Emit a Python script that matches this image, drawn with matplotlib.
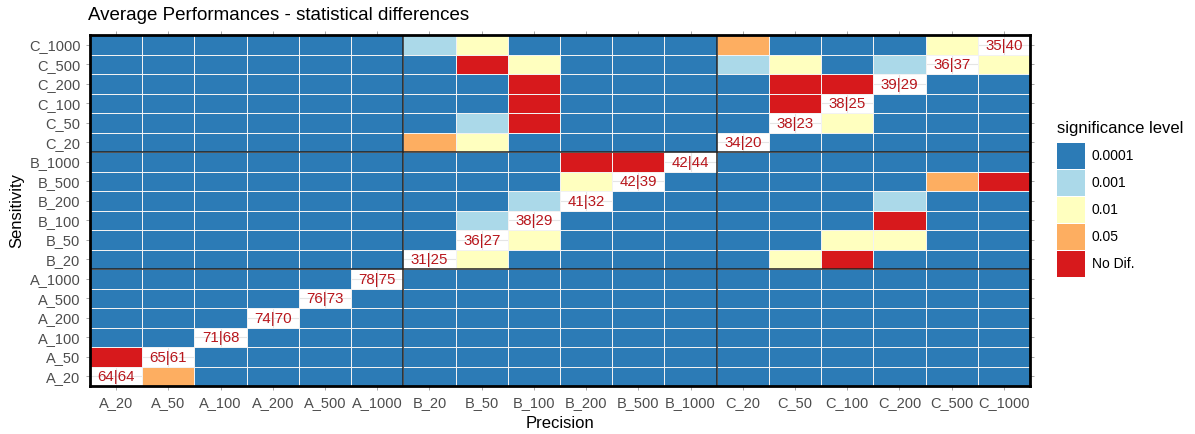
import numpy as np
import matplotlib
matplotlib.use("Agg")
import matplotlib.pyplot as plt
from matplotlib.colors import ListedColormap, BoundaryNorm
from matplotlib.patches import Rectangle

plt.rcParams['font.family'] = ['Liberation Sans', 'DejaVu Sans']

categories = ["A_20", "A_50", "A_100", "A_200", "A_500", "A_1000",
              "B_20", "B_50", "B_100", "B_200", "B_500", "B_1000",
              "C_20", "C_50", "C_100", "C_200", "C_500", "C_1000"]
levels = ["0.0001", "0.001", "0.01", "0.05", "No Dif."]
level_colors = ["#2C7BB6", "#ABD9E9", "#FFFFBF", "#FDAE61", "#D7191C"]

# significance level index per (sensitivity row, precision column); -1 = diagonal
# rows ordered A_20 ... C_1000 (bottom to top)
sig_A_20   = [-1, 3, 0, 0, 0, 0,  0, 0, 0, 0, 0, 0,  0, 0, 0, 0, 0, 0]
sig_A_50   = [4, -1, 0, 0, 0, 0,  0, 0, 0, 0, 0, 0,  0, 0, 0, 0, 0, 0]
sig_A_100  = [0, 0, -1, 0, 0, 0,  0, 0, 0, 0, 0, 0,  0, 0, 0, 0, 0, 0]
sig_A_200  = [0, 0, 0, -1, 0, 0,  0, 0, 0, 0, 0, 0,  0, 0, 0, 0, 0, 0]
sig_A_500  = [0, 0, 0, 0, -1, 0,  0, 0, 0, 0, 0, 0,  0, 0, 0, 0, 0, 0]
sig_A_1000 = [0, 0, 0, 0, 0, -1,  0, 0, 0, 0, 0, 0,  0, 0, 0, 0, 0, 0]
sig_B_20   = [0, 0, 0, 0, 0, 0,  -1, 2, 0, 0, 0, 0,  0, 2, 4, 0, 0, 0]
sig_B_50   = [0, 0, 0, 0, 0, 0,  0, -1, 2, 0, 0, 0,  0, 0, 2, 2, 0, 0]
sig_B_100  = [0, 0, 0, 0, 0, 0,  0, 1, -1, 0, 0, 0,  0, 0, 0, 4, 0, 0]
sig_B_200  = [0, 0, 0, 0, 0, 0,  0, 0, 1, -1, 0, 0,  0, 0, 0, 1, 0, 0]
sig_B_500  = [0, 0, 0, 0, 0, 0,  0, 0, 0, 2, -1, 0,  0, 0, 0, 0, 3, 4]
sig_B_1000 = [0, 0, 0, 0, 0, 0,  0, 0, 0, 4, 4, -1,  0, 0, 0, 0, 0, 0]
sig_C_20   = [0, 0, 0, 0, 0, 0,  3, 2, 0, 0, 0, 0,  -1, 0, 0, 0, 0, 0]
sig_C_50   = [0, 0, 0, 0, 0, 0,  0, 1, 4, 0, 0, 0,  0, -1, 2, 0, 0, 0]
sig_C_100  = [0, 0, 0, 0, 0, 0,  0, 0, 4, 0, 0, 0,  0, 4, -1, 0, 0, 0]
sig_C_200  = [0, 0, 0, 0, 0, 0,  0, 0, 4, 0, 0, 0,  0, 4, 4, -1, 0, 0]
sig_C_500  = [0, 0, 0, 0, 0, 0,  0, 4, 2, 0, 0, 0,  1, 2, 0, 1, -1, 2]
sig_C_1000 = [0, 0, 0, 0, 0, 0,  1, 2, 0, 0, 0, 0,  3, 0, 0, 0, 2, -1]

diag_labels = ["64|64", "65|61", "71|68", "74|70", "76|73", "78|75",
               "31|25", "36|27", "38|29", "41|32", "42|39", "42|44",
               "34|20", "38|23", "38|25", "39|29", "36|37", "35|40"]

rows = [sig_A_20, sig_A_50, sig_A_100, sig_A_200, sig_A_500, sig_A_1000,
        sig_B_20, sig_B_50, sig_B_100, sig_B_200, sig_B_500, sig_B_1000,
        sig_C_20, sig_C_50, sig_C_100, sig_C_200, sig_C_500, sig_C_1000]
Z = np.ma.masked_less(np.array(rows, dtype=float), 0)

W, H = 1195, 434
fig = plt.figure(figsize=(W / 100, H / 100), dpi=100)
ax = fig.add_axes([90 / W, 1 - 386 / H, (1030 - 90) / W, (386 - 35) / H])

n = len(categories)
# panel grid (visible through the diagonal cells)
for i in range(n):
    ax.axvline(i, color="#E5E5E5", lw=0.8, zorder=0)
    ax.axhline(i, color="#E5E5E5", lw=0.8, zorder=0)

cmap = ListedColormap(level_colors)
norm = BoundaryNorm(np.arange(-0.5, len(levels) + 0.5), cmap.N)
edges = np.arange(n + 1) - 0.5
ax.pcolormesh(edges, edges, Z, cmap=cmap, norm=norm, edgecolors="#F2F2F2",
              linewidth=0.7, zorder=1)

for i, lab in enumerate(diag_labels):
    ax.text(i, i - 0.05, lab, ha="center", va="center", color="#B8161C",
            fontsize=10.8, zorder=3)

for b in (5.5, 11.5):
    ax.axvline(b, color="#222222", lw=1.1, zorder=4)
    ax.axhline(b, color="#222222", lw=1.1, zorder=4)

ax.set_xlim(-0.5, n - 0.5)
ax.set_ylim(-0.5, n - 0.5)
ax.set_xticks(range(n))
ax.set_yticks(range(n))
ax.set_xticklabels(categories)
ax.set_yticklabels(categories)
ax.tick_params(axis="both", colors="#9A9A9A", labelsize=10.5, length=3,
               width=0.6, top=True, right=True)
ax.tick_params(axis="x", pad=4)
ax.tick_params(axis="y", pad=4)
for lab in ax.get_xticklabels() + ax.get_yticklabels():
    lab.set_color("#4D4D4D")
for s in ax.spines.values():
    s.set_linewidth(2)
    s.set_color("black")
    s.set_zorder(5)

fig.text(560 / W, 1 - 424 / H, "Precision", fontsize=12, ha="center", va="center")
fig.text(17 / W, 1 - 210 / H, "Sensitivity", fontsize=12, ha="center",
         va="center", rotation=90)
fig.text(88 / W, 1 - 15 / H, "Average Performances - statistical differences",
         fontsize=13.5, ha="left", va="center")

# legend
fig.text(1057 / W, 1 - 128 / H, "significance level", fontsize=12,
         ha="left", va="center")
key_top = 142
key_h = 27
for k, (lab, col) in enumerate(zip(levels, level_colors)):
    y0 = key_top + k * key_h
    fig.patches.append(Rectangle((1057 / W, 1 - (y0 + key_h) / H), 28 / W,
                                 (key_h - 1) / H, transform=fig.transFigure,
                                 facecolor=col, edgecolor="none"))
    fig.text(1092 / W, 1 - (y0 + key_h / 2) / H, lab, fontsize=10,
             ha="left", va="center")

fig.savefig("out.png", dpi=100)
